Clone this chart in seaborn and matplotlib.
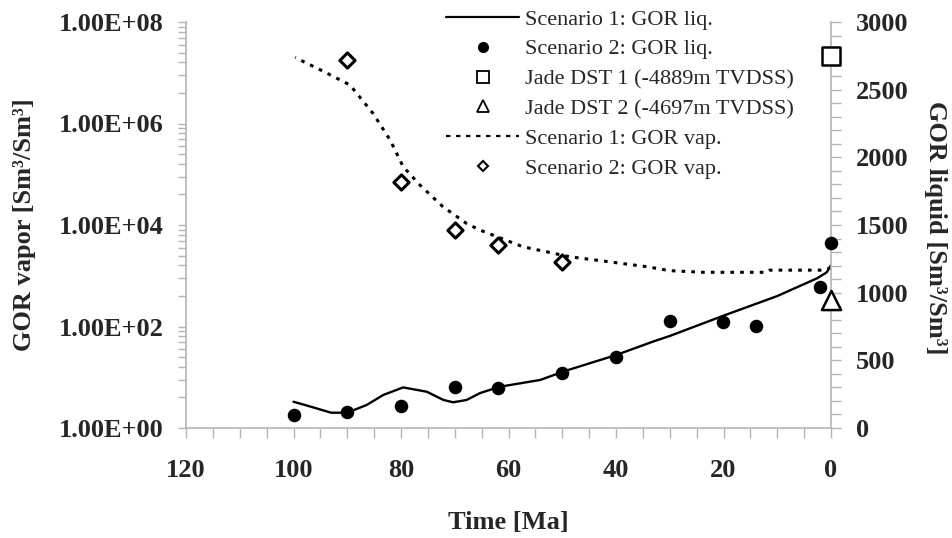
import matplotlib
matplotlib.use("Agg")
import matplotlib.pyplot as plt
from matplotlib.lines import Line2D
from matplotlib.ticker import FixedLocator, MultipleLocator, NullFormatter
import seaborn as sns

# Scenario 1: GOR liq. (solid line, right axis)
liq1_time = [100, 97, 93, 90, 86.4, 83.3, 79.6, 75.2, 72.1, 70.3, 67.8, 65.3,
             61.6, 54.1, 49.5, 40, 33, 30, 20, 10, 2.6, 0.8, 0]
liq1_gor = [194, 160, 113, 113, 170, 244, 300, 268, 207, 190, 207, 258,
            305, 355, 421, 539, 640, 680, 830, 975, 1106, 1150, 1204]

# Scenario 2: GOR liq. (filled circles, right axis)
liq2_time = [100, 90, 80, 70, 62, 50, 40, 30, 20, 14, 2, 0]
liq2_gor = [96, 115, 160, 305, 294, 404, 522, 790, 786, 754, 1040, 1365]

# Jade DST measurements (right axis)
dst1_time = [0]
dst1_gor = [2750]
dst2_time = [0]
dst2_gor = [946]

# Scenario 1: GOR vap. (dotted line, left log axis)
vap1_time = [99.7, 95, 89.5, 85.2, 82, 79.6, 76.5, 72.2, 67.8, 65.3, 57.3,
             48.6, 34.3, 30, 23.8, 12, 11.4, 2, 0]
vap1_gor = [2.0e7, 1.14e7, 5.75e6, 1.58e6, 4.68e5, 1.41e5, 6.17e4, 2.29e4,
            1.07e4, 7.94e3, 3.72e3, 2.37e3, 1.51e3, 1.26e3, 1.17e3, 1.17e3,
            1.29e3, 1.29e3, 1.41e3]

# Scenario 2: GOR vap. (open diamonds, left log axis)
vap2_time = [90, 80, 70, 62, 50]
vap2_gor = [1.8e7, 7.1e4, 7.9e3, 4.0e3, 1.9e3]

left_ticks = [1e0, 1e2, 1e4, 1e6, 1e8]
left_labels = ["1.00E+00", "1.00E+02", "1.00E+04", "1.00E+06", "1.00E+08"]

sns.set_style("white")
plt.rcParams["font.family"] = ["Liberation Serif", "DejaVu Serif"]

GRAY = "#b5b5b5"
W, H = 952, 538

fig = plt.figure(figsize=(9.52, 5.38), dpi=100)
ax = fig.add_axes([186 / W, 1 - 428 / H, (831 - 186) / W, (428 - 22) / H])
ax2 = ax.twinx()

# left axis: vapour GOR
sns.lineplot(x=vap1_time, y=vap1_gor, ax=ax, color="black", lw=2.2,
             linestyle=(0, (1.2, 2.0)))
sns.scatterplot(x=vap2_time, y=vap2_gor, ax=ax, marker="D", s=60,
                color="white", edgecolor="black", linewidth=2.2,
                clip_on=False, zorder=4)

# right axis: liquid GOR
sns.lineplot(x=liq1_time, y=liq1_gor, ax=ax2, color="black", lw=1.7)
sns.scatterplot(x=liq2_time, y=liq2_gor, ax=ax2, marker="o", s=95,
                color="black", edgecolor="black", linewidth=0,
                clip_on=False, zorder=4)
sns.scatterplot(x=dst1_time, y=dst1_gor, ax=ax2, marker="s", s=150,
                color="white", edgecolor="black", linewidth=1.8,
                clip_on=False, zorder=5)
sns.scatterplot(x=dst2_time, y=dst2_gor, ax=ax2, marker="^", s=190,
                color="white", edgecolor="black", linewidth=1.8,
                clip_on=False, zorder=5)

ax.set_xlim(120, 0)
ax.set_yscale("log")
ax.set_ylim(1, 1e8)
ax2.set_ylim(0, 3000)

tick_font = dict(family="Liberation Serif", weight="bold", size=19)

ax.xaxis.set_major_locator(MultipleLocator(20))
ax.xaxis.set_minor_locator(MultipleLocator(5))
ax.set_xticks(ax.get_xticks())
ax.set_xticklabels([f"{int(t)}" for t in ax.get_xticks()], **tick_font)
ax.set_xlim(120, 0)

ax.yaxis.set_major_locator(FixedLocator(left_ticks))
ax.set_yticklabels(left_labels, **tick_font)
minor = []
for base in [1e0, 1e2, 1e4, 1e6]:
    minor += [base * m for m in [4, 9, 16, 25, 36, 49, 64, 81]]
ax.yaxis.set_minor_locator(FixedLocator(minor))
ax.yaxis.set_minor_formatter(NullFormatter())

ax2.yaxis.set_major_locator(MultipleLocator(500))
ax2.yaxis.set_minor_locator(MultipleLocator(100))
ax2.set_yticks(range(0, 3001, 500))
ax2.set_yticklabels([str(v) for v in range(0, 3001, 500)], **tick_font)

ax.tick_params(axis="y", which="both", direction="out", length=6, width=1,
               color=GRAY, pad=10, left=True)
ax.tick_params(axis="x", which="both", direction="out", length=7, width=1,
               color=GRAY, pad=15, bottom=True)
ax2.tick_params(axis="y", which="both", direction="out", length=7, width=1,
                color=GRAY, pad=11, right=True)

for a in (ax, ax2):
    for side, sp in a.spines.items():
        sp.set_color(GRAY)
        sp.set_linewidth(1.2)
    a.spines["top"].set_visible(False)
ax.spines["right"].set_visible(False)
ax2.spines["left"].set_visible(False)
ax2.spines["bottom"].set_visible(False)
ax.grid(False)
ax2.grid(False)
ax.set_xlabel("")
ax.set_ylabel("")
ax2.set_ylabel("")

label_font = dict(family="Liberation Serif", weight="bold", size=19)
fig.text(25 / W, 1 - 225 / H, "GOR vapor [Sm³/Sm³]", rotation=90,
         ha="center", va="center", **label_font)
fig.text(936 / W, 1 - 228 / H, "GOR liquid [Sm³/Sm³]", rotation=270,
         ha="center", va="center", **label_font)
fig.text(508 / W, 1 - 523 / H, "Time [Ma]", ha="center", va="center",
         **label_font)

handles = [
    Line2D([], [], color="black", lw=1.6),
    Line2D([], [], color="black", ls="none", marker="o", ms=7),
    Line2D([], [], color="black", ls="none", marker="s", ms=8,
           mfc="white", mew=1.3),
    Line2D([], [], color="black", ls="none", marker="^", ms=8,
           mfc="white", mew=1.3),
    Line2D([], [], color="black", lw=1.6, ls=(0, (2, 2.5))),
    Line2D([], [], color="black", ls="none", marker="D", ms=5,
           mfc="white", mew=1.5),
]
labels = ["Scenario 1: GOR liq.", "Scenario 2: GOR liq.",
          "Jade DST 1 (-4889m TVDSS)", "Jade DST 2 (-4697m TVDSS)",
          "Scenario 1: GOR vap.", "Scenario 2: GOR vap."]
fig.legend(handles, labels, loc="upper left",
           bbox_to_anchor=(446 / W, 1 - 9 / H), frameon=False,
           prop=dict(family="Liberation Serif", size=16),
           handlelength=3.3, handletextpad=0.25, labelspacing=0.42,
           borderpad=0, borderaxespad=0)

fig.savefig("out.png", dpi=100)
